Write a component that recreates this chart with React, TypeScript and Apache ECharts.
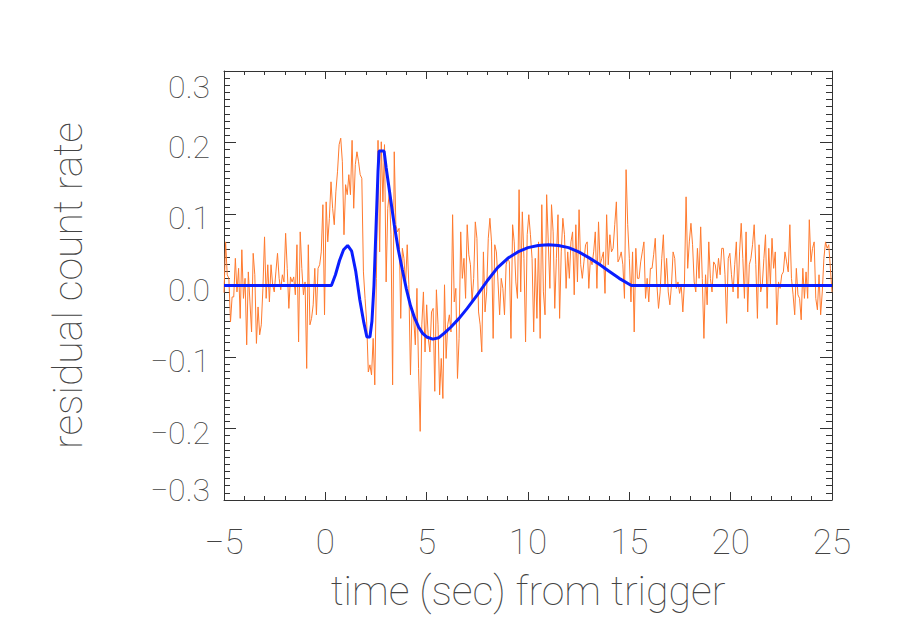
import React, { useEffect, useRef } from "react";
import * as echarts from "echarts";

// time grid of the residual count-rate series
const T0 = -5;
const DT = 0.08;

// residual count rate (orange), split in consecutive chunks
const orange1 = [-0.010,0.061,0.015,0.010,-0.051,-0.016,-0.016,0.038,-0.009,0.024,-0.046,0.050,-0.018,0.010,-0.083,0.019,-0.023,-0.065,0.045,0.015,-0.081,-0.030,-0.069,-0.055,-0.004,0.068,-0.018,0.029,-0.023,0.029,0.001,-0.009,0.019,0.045,0.010,-0.006,0.015,0.005,0.073,0.024,-0.032,0.012,0.005,0.012,-0.013,0.057,-0.079];
const orange2 = [0.075,0.024,-0.013,0.005,-0.116,0.057,-0.055,-0.046,-0.027,0.024,-0.041,0.024,0.029,0.047,0.113,-0.041,0.117,0.061,0.094,0.145,0.108,0.085,0.131,0.159,0.197,0.206,0.173,0.071,0.141,0.127,0.155,0.127,0.203,0.108,0.169,0.187,0.173,0.155,0.150,0.019,-0.018,-0.051,-0.121,-0.111,-0.125,-0.074,-0.139];
const orange3 = [0.010,0.203,0.047,0.201,0.117,0.197,0.005,0.108,0.131,0.071,-0.139,0.187,0.085,0.075,0.080,-0.046,0.052,0.038,0.001,0.057,0.001,-0.125,-0.032,-0.046,-0.083,-0.004,-0.116,-0.204,-0.055,-0.009,-0.093,-0.027,-0.074,-0.093,-0.037,-0.032,-0.148,-0.006,-0.055,-0.153,-0.102,-0.158,0.001,-0.102,-0.055,-0.041,-0.065];
const orange4 = [0.099,-0.023,-0.004,-0.130,-0.074,0.075,0.010,0.038,-0.018,0.085,0.043,0.029,-0.023,0.010,0.089,0.066,-0.037,-0.055,-0.093,0.047,-0.037,-0.009,0.066,0.094,0.061,-0.074,0.057,0.047,0.005,-0.041,0.010,-0.004,-0.041,0.029,0.038,0.033,-0.074,0.085,0.061,0.005,-0.018,0.134,-0.009,0.103,0.038,-0.079,0.071];
const orange5 = [0.099,0.071,0.038,-0.065,0.038,-0.046,0.061,-0.074,0.113,-0.009,-0.041,0.127,0.061,-0.004,0.113,0.075,-0.032,0.038,0.099,-0.046,0.047,0.094,0.071,-0.004,0.047,0.010,0.061,0.075,-0.013,0.085,0.005,0.106,0.029,0.010,0.033,0.057,0.061,-0.004,0.038,0.029,0.047,0.075,-0.004,0.089,0.029,0.038,0.047];
const orange6 = [-0.011,0.099,0.029,0.071,0.047,0.052,0.085,0.117,0.033,0.038,0.047,0.029,-0.018,0.162,0.085,0.038,-0.023,0.047,-0.065,0.052,0.010,0.010,0.033,0.047,0.061,-0.018,0.010,-0.023,0.024,0.024,0.043,0.066,0.001,-0.032,-0.009,0.038,0.071,0.001,0.038,-0.009,-0.027,0.001,0.047,0.038,-0.004,0.005,-0.011];
const orange7 = [0.001,-0.037,0.005,0.124,0.024,0.061,0.087,0.057,0.005,-0.009,0.052,0.010,0.082,0.010,-0.074,0.015,-0.027,0.061,0.010,-0.009,0.033,0.029,0.010,0.038,0.015,0.052,0.052,0.015,-0.053,0.038,0.045,0.015,-0.009,0.029,0.061,-0.018,0.047,0.087,0.038,-0.018,0.075,-0.037,0.029,0.038,0.057,0.085,0.029];
const orange8 = [-0.046,0.057,-0.009,0.001,0.038,0.071,-0.032,0.052,0.001,0.066,0.024,0.047,-0.055,0.005,-0.004,0.015,0.019,0.047,0.033,0.019,0.085,0.010,-0.013,-0.041,0.024,-0.013,-0.018,-0.048,0.024,-0.018,0.019,-0.018,0.092,0.033,0.052,0.061,-0.018,-0.034,0.015,-0.041,-0.009,0.038,0.061,0.052,0.057,0.024,-0.009];

// pulse model (blue)
const modelTimes = [-5,0.3,0.5,0.7,0.9,1.1,1.3,1.5,1.7,1.9,2.05,2.2,2.3,2.4,2.5,2.6,2.65,2.9,3.0,3.1,3.25,3.4,3.6,3.8,4.0,4.2,4.4,4.6,4.8,5.0,5.3,5.6,5.9,6.2,6.6,7.0,7.5,8.0,8.5,9.0,9.5,10.0,10.5,11.0,11.5,12.0,12.5,13.0,13.5,14.0,14.5,15.1,25];
const modelValues = [0,0,0.015,0.035,0.05,0.056,0.048,0.02,-0.02,-0.052,-0.072,-0.072,-0.05,0.0,0.08,0.16,0.188,0.188,0.165,0.145,0.115,0.085,0.05,0.022,-0.005,-0.028,-0.045,-0.058,-0.067,-0.072,-0.075,-0.073,-0.066,-0.058,-0.046,-0.032,-0.013,0.007,0.025,0.038,0.047,0.053,0.056,0.057,0.056,0.053,0.047,0.039,0.030,0.020,0.010,0,0];

const xTickLabels = { min: -5, max: 25, step: 5 };
const yTickLabels = { min: -0.3, max: 0.3, step: 0.1 };

const FONT = "Roboto";
const WEIGHT = 100;
const TEXT = "#444";
const AXIS = "#333";

export default function App() {
  const ref = useRef<HTMLDivElement>(null);
  useEffect(() => {
    if (!ref.current) return;
    const chart = echarts.init(ref.current, undefined, { renderer: "svg" });
    const orange = [...orange1, ...orange2, ...orange3, ...orange4, ...orange5, ...orange6, ...orange7, ...orange8];
    const orangeData = orange.map((v, i) => [T0 + i * DT, v]);
    const modelData = modelTimes.map((t, i) => [t, modelValues[i]]);
    const minus = (s: string) => s.replace("-", "\u2212");
    const xFmt = (v: number) => minus(String(Math.round(v)));
    const yFmt = (v: number) => {
      const s = Math.abs(v) < 1e-9 ? "0.0" : minus(v.toFixed(1));
      if (v > yTickLabels.max - 1e-9) return `{t|${s}}`;
      if (v < yTickLabels.min + 1e-9) return `{b|${s}}`;
      return `{m|${s}}`;
    };
    const tickStyle = { color: AXIS, width: 1 };
    const yLab = { fontFamily: FONT, fontWeight: WEIGHT, fontSize: 32, color: TEXT };
    chart.setOption({
      animation: false,
      backgroundColor: "#fff",
      grid: { left: 224, top: 71, width: 608, height: 429, containLabel: false },
      xAxis: [
        {
          type: "value", position: "bottom",
          min: xTickLabels.min, max: xTickLabels.max, interval: xTickLabels.step,
          axisLine: { show: true, onZero: false, lineStyle: tickStyle },
          axisTick: { show: true, inside: true, length: 8, lineStyle: tickStyle },
          minorTick: { show: true, splitNumber: 5, length: 4, lineStyle: tickStyle },
          splitLine: { show: false },
          axisLabel: { fontFamily: FONT, fontWeight: WEIGHT, fontSize: 35, color: TEXT, margin: 25, formatter: xFmt },
          name: "time (sec) from trigger",
          nameLocation: "middle", nameGap: 70,
          nameTextStyle: { fontFamily: FONT, fontWeight: WEIGHT, fontSize: 41, color: TEXT },
        },
        {
          type: "value", position: "top",
          min: xTickLabels.min, max: xTickLabels.max, interval: xTickLabels.step,
          axisLine: { show: true, onZero: false, lineStyle: tickStyle },
          axisTick: { show: true, inside: true, length: 8, lineStyle: tickStyle },
          minorTick: { show: true, splitNumber: 5, length: 4, lineStyle: tickStyle },
          splitLine: { show: false },
          axisLabel: { show: false },
        },
      ],
      yAxis: [
        {
          type: "value", position: "left",
          min: yTickLabels.min, max: yTickLabels.max, interval: yTickLabels.step,
          axisLine: { show: true, onZero: false, lineStyle: tickStyle },
          axisTick: { show: true, inside: true, length: 12, lineStyle: tickStyle },
          minorTick: { show: true, splitNumber: 10, length: 6, lineStyle: tickStyle },
          splitLine: { show: false },
          axisLabel: {
            margin: 14, formatter: yFmt, ...yLab,
            rich: {
              t: { ...yLab, padding: [32, 0, 0, 0] },
              m: { ...yLab, padding: [8, 0, 0, 0] },
              b: { ...yLab, padding: [0, 0, 20, 0] },
            },
          },
          name: "residual count rate",
          nameLocation: "middle", nameGap: 136,
          nameTextStyle: { fontFamily: FONT, fontWeight: WEIGHT, fontSize: 41, color: TEXT },
        },
        {
          type: "value", position: "right",
          min: yTickLabels.min, max: yTickLabels.max, interval: yTickLabels.step,
          axisLine: { show: true, onZero: false, lineStyle: tickStyle },
          axisTick: { show: true, inside: true, length: 12, lineStyle: tickStyle },
          minorTick: { show: true, splitNumber: 10, length: 6, lineStyle: tickStyle },
          splitLine: { show: false },
          axisLabel: { show: false },
        },
      ],
      series: [
        {
          type: "line", data: orangeData, showSymbol: false, symbol: "none",
          lineStyle: { color: "#ff7a2e", width: 1 }, z: 2,
        },
        {
          type: "line", data: modelData, showSymbol: false, symbol: "none",
          lineStyle: { color: "#0a1eff", width: 3 }, z: 3,
        },
      ],
    });
    return () => chart.dispose();
  }, []);
  return <div ref={ref} style={{ position: "fixed", left: 0, top: 0, width: 900, height: 643 }} />;
}
